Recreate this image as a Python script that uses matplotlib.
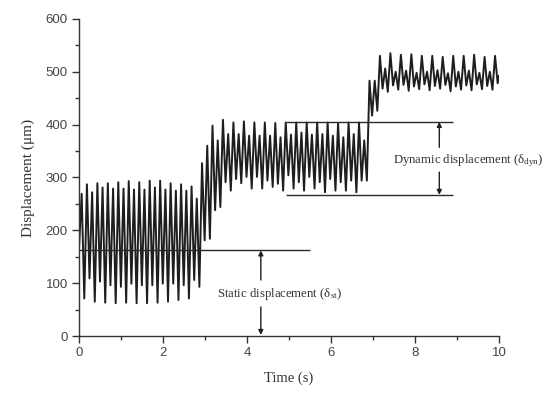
import matplotlib
matplotlib.use('Agg')
import matplotlib.pyplot as plt
import numpy as np

plt.rcParams['mathtext.fontset'] = 'custom'
plt.rcParams['mathtext.rm'] = 'Liberation Serif'
plt.rcParams['mathtext.it'] = 'Liberation Serif:italic'

# turning points of the displacement trace
peak_t = [0.064, 0.189, 0.313, 0.438, 0.562, 0.687, 0.812, 0.936, 1.061, 1.185,
          1.310, 1.435, 1.559, 1.684, 1.808, 1.933, 2.058, 2.182, 2.307, 2.431,
          2.556, 2.681, 2.805, 2.930, 3.054, 3.179, 3.304, 3.428, 3.553, 3.677,
          3.802, 3.927, 4.051, 4.176, 4.300, 4.425, 4.550, 4.674, 4.799, 4.923,
          5.048, 5.173, 5.297, 5.422, 5.546, 5.671, 5.796, 5.920, 6.045, 6.169,
          6.294, 6.419, 6.543, 6.668, 6.792, 6.917, 7.042, 7.166, 7.291, 7.415,
          7.540, 7.665, 7.789, 7.914, 8.038, 8.163, 8.288, 8.412, 8.537, 8.661,
          8.786, 8.911, 9.035, 9.160, 9.284, 9.409, 9.534, 9.658, 9.783, 9.907]
peak_v = [269, 287, 272, 289, 281, 289, 279, 291, 279, 293,
          277, 291, 277, 294, 281, 294, 277, 289, 275, 287,
          275, 283, 260, 327, 360, 398, 370, 409, 382, 404,
          382, 406, 379, 404, 379, 404, 379, 403, 376, 404,
          381, 404, 385, 404, 381, 404, 382, 404, 379, 403,
          376, 404, 382, 404, 370, 483, 483, 530, 506, 535,
          500, 532, 502, 533, 498, 530, 500, 530, 503, 528,
          497, 530, 500, 530, 502, 532, 498, 528, 500, 530]
valley_t = [0.126, 0.251, 0.376, 0.500, 0.625, 0.749, 0.874, 0.998, 1.123, 1.248,
            1.372, 1.497, 1.621, 1.746, 1.871, 1.995, 2.120, 2.244, 2.369, 2.494,
            2.618, 2.743, 2.867, 2.992, 3.117, 3.241, 3.366, 3.490, 3.615, 3.740,
            3.864, 3.989, 4.113, 4.238, 4.363, 4.487, 4.612, 4.736, 4.861, 4.986,
            5.110, 5.235, 5.359, 5.484, 5.609, 5.733, 5.858, 5.982, 6.107, 6.232,
            6.356, 6.481, 6.605, 6.730, 6.855, 6.979, 7.104, 7.228, 7.353, 7.478,
            7.602, 7.727, 7.851, 7.976, 8.101, 8.225, 8.350, 8.474, 8.599, 8.724,
            8.848, 8.973, 9.097, 9.222, 9.347, 9.471, 9.596, 9.720, 9.845, 9.969]
valley_v = [71, 109, 65, 103, 63, 96, 62, 93, 63, 99,
            62, 96, 62, 96, 63, 99, 65, 99, 68, 96,
            71, 106, 93, 181, 184, 238, 244, 291, 275, 297,
            289, 301, 279, 301, 279, 294, 282, 288, 275, 304,
            279, 291, 275, 301, 279, 291, 272, 297, 275, 291,
            275, 294, 272, 294, 294, 417, 426, 468, 462, 474,
            466, 475, 464, 472, 467, 476, 465, 473, 468, 475,
            463, 472, 466, 474, 465, 476, 467, 473, 466, 478]
start_pt = (0.0, 165)
end_pt = (10.0, 492)

static_level = 162
static_span = (0.0, 5.5)
dyn_upper = 405
dyn_lower = 267
dyn_span = (4.93, 8.9)

# interleave peaks and valleys
t = [start_pt[0]]
v = [start_pt[1]]
for pt, pv, vt, vv in zip(peak_t, peak_v, valley_t, valley_v):
    t += [pt, vt]
    v += [pv, vv]
t.append(end_pt[0])
v.append(end_pt[1])

fig = plt.figure(figsize=(5.5, 3.93), dpi=100)
ax = fig.add_axes([0.1436, 0.145, 0.7636, 0.807])

ax.plot(t, v, color='#1e1e1e', lw=1.4)

ax.hlines(static_level, *static_span, color='#2a2a2a', lw=1.0)
ax.hlines([dyn_upper, dyn_lower], *dyn_span, color='#2a2a2a', lw=1.0)

arrow = dict(arrowstyle='-|>', color='#1e1e1e', lw=1.0, mutation_scale=7,
             shrinkA=0, shrinkB=0)
ax.annotate('', xy=(4.33, static_level), xytext=(4.33, 106), arrowprops=arrow)
ax.annotate('', xy=(4.33, 2), xytext=(4.33, 55), arrowprops=arrow)
ax.annotate('', xy=(8.58, dyn_upper), xytext=(8.58, 357), arrowprops=arrow)
ax.annotate('', xy=(8.58, dyn_lower), xytext=(8.58, 310), arrowprops=arrow)

ax.text(3.28, 79, 'Static displacement (\u03b4$_{\\mathrm{st}}$)', family='Liberation Serif',
        fontsize=9.2, color='#333333', va='center', ha='left')
ax.text(7.48, 332, 'Dynamic displacement (\u03b4$_{\\mathrm{dyn}}$)', family='Liberation Serif',
        fontsize=9.2, color='#333333', va='center', ha='left', clip_on=False)

ax.set_xlim(0, 10)
ax.set_ylim(0, 600)
ax.set_xticks(range(0, 11, 2))
ax.set_xticks(range(1, 11, 2), minor=True)
ax.set_yticks(range(0, 601, 100))
ax.set_yticks(range(50, 600, 100), minor=True)
ax.spines['top'].set_visible(False)
ax.spines['right'].set_visible(False)
for s in ['left', 'bottom']:
    ax.spines[s].set_color('#333333')
    ax.spines[s].set_linewidth(1.0)
ax.tick_params(which='major', direction='out', length=5, width=1, color='#333333',
               labelsize=9.5, labelcolor='#444444', pad=3)
ax.tick_params(which='minor', direction='out', length=3, width=1, color='#333333')
for lab in ax.get_xticklabels() + ax.get_yticklabels():
    lab.set_family('Liberation Sans')

ax.set_xlabel('Time (s)', family='Liberation Serif', fontsize=10.5, color='#333333', labelpad=9)
ax.set_ylabel('Displacement (\u03bcm)', family='Liberation Serif', fontsize=11, color='#333333',
              labelpad=8)

plt.savefig('out.png', dpi=100)
